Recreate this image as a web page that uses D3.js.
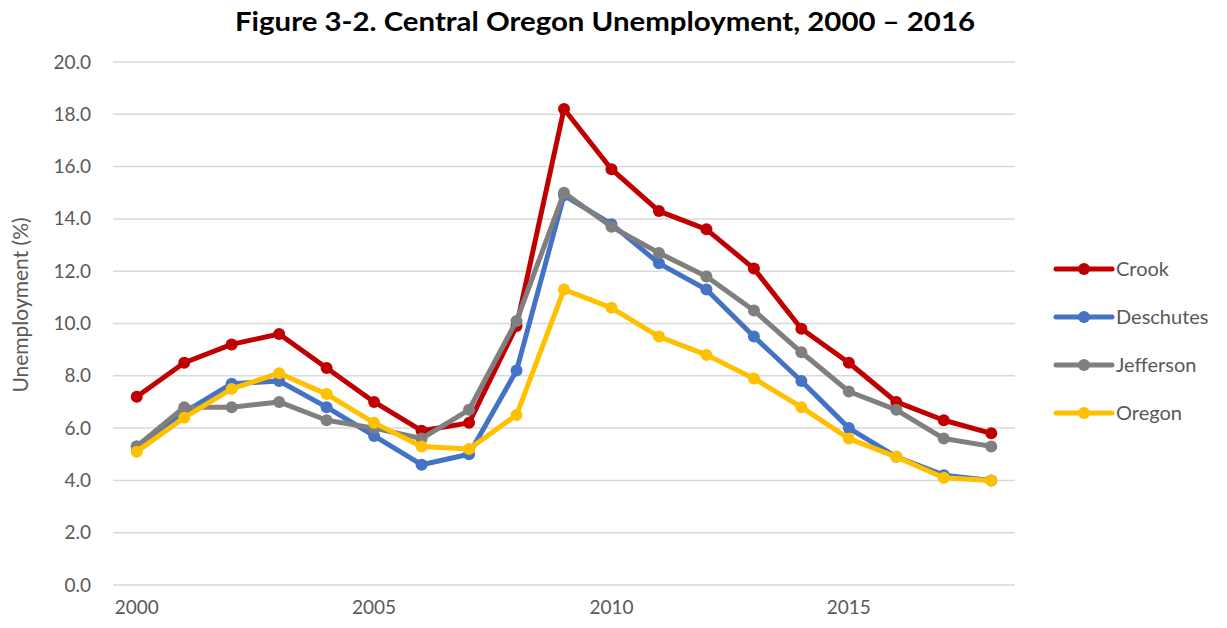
<!DOCTYPE html>
<html>
<head>
<meta charset="utf-8">
<script src="https://cdn.jsdelivr.net/npm/d3@7"></script>
<style>
  body { margin: 0; background: #fff; }
  text { font-family: Lato, "Open Sans", sans-serif; }
</style>
</head>
<body>
<script>
var years = [2000, 2001, 2002, 2003, 2004, 2005, 2006, 2007, 2008, 2009,
             2010, 2011, 2012, 2013, 2014, 2015, 2016, 2017, 2018];
var crook = [7.2, 8.5, 9.2, 9.6, 8.3, 7.0, 5.9, 6.2, 9.9, 18.2,
             15.9, 14.3, 13.6, 12.1, 9.8, 8.5, 7.0, 6.3, 5.8];
var deschutes = [5.3, 6.6, 7.7, 7.8, 6.8, 5.7, 4.6, 5.0, 8.2, 14.9,
                 13.8, 12.3, 11.3, 9.5, 7.8, 6.0, 4.9, 4.2, 4.0];
var jefferson = [5.3, 6.8, 6.8, 7.0, 6.3, 6.0, 5.6, 6.7, 10.1, 15.0,
                 13.7, 12.7, 11.8, 10.5, 8.9, 7.4, 6.7, 5.6, 5.3];
var oregon = [5.1, 6.4, 7.5, 8.1, 7.3, 6.2, 5.3, 5.2, 6.5, 11.3,
              10.6, 9.5, 8.8, 7.9, 6.8, 5.6, 4.9, 4.1, 4.0];
var xTickLabels = [2000, 2005, 2010, 2015];
var yTicks = [0, 2, 4, 6, 8, 10, 12, 14, 16, 18, 20];

var seriesList = [
  {name: "Crook", values: crook, color: "#c00000"},
  {name: "Deschutes", values: deschutes, color: "#4472c4"},
  {name: "Jefferson", values: jefferson, color: "#7f7f7f"},
  {name: "Oregon", values: oregon, color: "#ffc000"}
];

var svgWidth = 1227, svgHeight = 628;
var margin = {top: 62, right: 212, bottom: 43, left: 113};
var width = svgWidth - margin.left - margin.right;
var height = svgHeight - margin.top - margin.bottom;

var svg = d3.select("body").append("svg")
  .attr("width", svgWidth)
  .attr("height", svgHeight);

var chartGroup = svg.append("g")
  .attr("transform", `translate(${margin.left}, ${margin.top})`);

var x = d3.scaleBand().domain(years).range([0, width]);
var y = d3.scaleLinear().domain([0, 20]).range([height, 0]);

// gridlines
chartGroup.append("g")
  .selectAll("line")
  .data(yTicks)
  .enter().append("line")
  .attr("x1", 0).attr("x2", width)
  .attr("y1", d => y(d)).attr("y2", d => y(d))
  .attr("stroke", "#d9d9d9")
  .attr("stroke-width", 1.5);

// y axis labels
var leftAxis = d3.axisLeft(y).tickValues(yTicks).tickFormat(d3.format(".1f")).tickSize(0).tickPadding(22);
var yAxisG = chartGroup.append("g").call(leftAxis);
yAxisG.select(".domain").remove();
yAxisG.selectAll("text").attr("fill", "#595959").style("font-size", "19px");

// x axis labels
var bottomAxis = d3.axisBottom(x).tickValues(xTickLabels).tickSize(0).tickPadding(16);
var xAxisG = chartGroup.append("g")
  .attr("transform", `translate(0, ${height})`)
  .call(bottomAxis);
xAxisG.select(".domain").remove();
xAxisG.selectAll("text").attr("fill", "#595959").style("font-size", "19px");

var line = d3.line()
  .x((d, i) => x(years[i]) + x.bandwidth() / 2)
  .y(d => y(d));

seriesList.forEach(function(s) {
  var g = chartGroup.append("g");
  g.append("path")
    .datum(s.values)
    .attr("d", line)
    .attr("fill", "none")
    .attr("stroke", s.color)
    .attr("stroke-width", 5)
    .attr("stroke-linejoin", "round");
  g.selectAll("circle")
    .data(s.values)
    .enter().append("circle")
    .attr("cx", (d, i) => x(years[i]) + x.bandwidth() / 2)
    .attr("cy", d => y(d))
    .attr("r", 6)
    .attr("fill", s.color);
});

// title
svg.append("text")
  .attr("x", 605)
  .attr("y", 31)
  .attr("text-anchor", "middle")
  .attr("textLength", 740)
  .attr("lengthAdjust", "spacingAndGlyphs")
  .style("font-size", "27px")
  .style("font-weight", "bold")
  .attr("fill", "#000")
  .text("Figure 3-2. Central Oregon Unemployment, 2000 \u2013 2016");

// y axis title
svg.append("text")
  .attr("transform", "translate(28, 305) rotate(-90)")
  .attr("text-anchor", "middle")
  .style("font-size", "21px")
  .attr("fill", "#595959")
  .text("Unemployment (%)");

// legend
var legend = svg.append("g").attr("transform", "translate(1056, 269)");
var legendItem = legend.selectAll("g")
  .data(seriesList)
  .enter().append("g")
  .attr("transform", (d, i) => `translate(0, ${i * 48})`);
legendItem.append("line")
  .attr("x1", 0).attr("x2", 56)
  .attr("stroke", d => d.color)
  .attr("stroke-width", 5)
  .attr("stroke-linecap", "round");
legendItem.append("circle")
  .attr("cx", 28).attr("r", 6)
  .attr("fill", d => d.color);
legendItem.append("text")
  .attr("x", 60)
  .attr("dy", "0.35em")
  .style("font-size", "20px")
  .attr("fill", "#595959")
  .text(d => d.name);
</script>
</body>
</html>
